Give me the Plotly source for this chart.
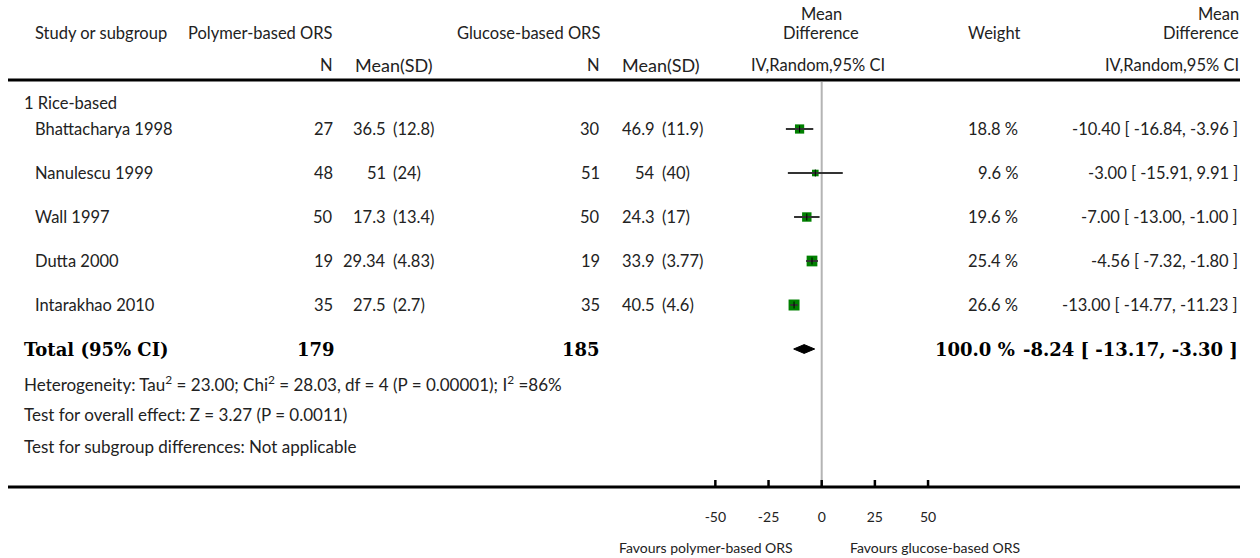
import plotly.graph_objects as go

# ---- study data ----
studies = ["Bhattacharya 1998", "Nanulescu 1999", "Wall 1997", "Dutta 2000", "Intarakhao 2010"]
n_poly = [27, 48, 50, 19, 35]
mean_poly = ["36.5", "51", "17.3", "29.34", "27.5"]
sd_poly = ["12.8", "24", "13.4", "4.83", "2.7"]
n_gluc = [30, 51, 50, 19, 35]
mean_gluc = ["46.9", "54", "24.3", "33.9", "40.5"]
sd_gluc = ["11.9", "40", "17", "3.77", "4.6"]
md = [-10.40, -3.00, -7.00, -4.56, -13.00]
ci_lo = [-16.84, -15.91, -13.00, -7.32, -14.77]
ci_hi = [-3.96, 9.91, -1.00, -1.80, -11.23]
weights = [18.8, 9.6, 19.6, 25.4, 26.6]

total_n_poly = 179
total_n_gluc = 185
total_md = -8.24
total_lo = -13.17
total_hi = -3.30
total_weight = 100.0

ticks = [-50, -25, 0, 25, 50]

W, H = 1260, 558
ROW0, ROWSTEP = 129, 44      # pixel y of first study row, row spacing
AXIS_Y = 487                 # pixel y of the bottom rule / axis
X0PX, XSCALE = 821.7, 2.127  # pixel x of zero, pixels per unit

SANS = "Lato, 'Open Sans', sans-serif"
SERIF = "'DejaVu Serif', 'Liberation Serif', serif"
TXT = "#222222"
FS = 16.5


def ry(py):
    """pixel y -> row coordinate on the y axis"""
    return (py - ROW0) / ROWSTEP


def px(x):
    """pixel x -> paper fraction"""
    return x / W


def pyp(py):
    """pixel y -> paper fraction (plot area spans 0..AXIS_Y)"""
    return (AXIS_Y - py) / AXIS_Y


fig = go.Figure()

rows = list(range(len(studies)))

# weighted squares
fig.add_trace(go.Scatter(
    x=md, y=rows, mode="markers",
    marker=dict(symbol="square", color="#008000", opacity=1,
                size=[2.13 * w ** 0.5 for w in weights], line=dict(width=0)),
    hoverinfo="skip", showlegend=False))

# confidence interval lines
cx, cy = [], []
for lo, hi, r in zip(ci_lo, ci_hi, rows):
    cx += [lo, hi, None]
    cy += [r, r, None]
fig.add_trace(go.Scatter(x=cx, y=cy, mode="lines",
                         line=dict(color="#333333", width=2),
                         hoverinfo="skip", showlegend=False))

# point estimate tick
fig.add_trace(go.Scatter(
    x=md, y=rows, mode="markers",
    marker=dict(symbol="line-ns", size=5, line=dict(color="black", width=1)),
    hoverinfo="skip", showlegend=False))

# pooled diamond
tr = len(studies)
dh = 0.1
fig.add_trace(go.Scatter(
    x=[total_lo, total_md, total_hi, total_md, total_lo],
    y=[tr, tr - dh, tr, tr + dh, tr],
    mode="lines", fill="toself", fillcolor="black",
    line=dict(color="black", width=1),
    hoverinfo="skip", showlegend=False))

# axis ticks pointing up from the bottom rule
tx, ty = [], []
for v in ticks:
    tx += [v, v, None]
    ty += [ry(AXIS_Y - 1), ry(AXIS_Y - 7), None]
fig.add_trace(go.Scatter(x=tx, y=ty, mode="lines",
                         line=dict(color="black", width=2.5),
                         hoverinfo="skip", showlegend=False))

shapes = [
    # header rule
    dict(type="line", xref="paper", yref="paper", x0=px(8), x1=px(1240),
         y0=pyp(80), y1=pyp(80), line=dict(color="black", width=3)),
    # bottom rule
    dict(type="line", xref="paper", yref="paper", x0=px(8), x1=px(1240),
         y0=pyp(AXIS_Y), y1=pyp(AXIS_Y), line=dict(color="black", width=3)),
    # line of no effect
    dict(type="line", xref="x", yref="paper", x0=0, x1=0,
         y0=pyp(82), y1=pyp(AXIS_Y), line=dict(color="#b4b4b4", width=2),
         layer="below"),
]

ann = []


def t(x, y, text, anchor="left", size=FS, font=SANS, color=TXT):
    ann.append(dict(x=px(x), y=pyp(y), xref="paper", yref="paper",
                    text=text, showarrow=False, xanchor=anchor, yanchor="middle",
                    font=dict(family=font, size=size, color=color)))


# column headers
t(33, 33, "Study or subgroup")
t(335, 33, "Polymer-based ORS", "right")
t(335, 65, "N", "right")
t(394, 65, "Mean(SD)", "center", size=18)
t(602, 33, "Glucose-based ORS", "right")
t(602, 65, "N", "right")
t(661, 65, "Mean(SD)", "center", size=18)
t(821, 14, "Mean", "center")
t(821, 33, "Difference", "center")
t(818, 65, "IV,Random,95% CI", "center")
t(994, 33, "Weight", "center")
t(1241, 14, "Mean", "right")
t(1241, 33, "Difference", "right")
t(1241, 65, "IV,Random,95% CI", "right")

# subgroup header
t(22, 103, "1 Rice-based")

# study rows
for i, r in enumerate(rows):
    y = ROW0 + ROWSTEP * r
    t(33, y, studies[i])
    t(335, y, str(n_poly[i]), "right")
    t(388, y, mean_poly[i], "right")
    t(391, y, f"({sd_poly[i]})", "left")
    t(602, y, str(n_gluc[i]), "right")
    t(657, y, mean_gluc[i], "right")
    t(660, y, f"({sd_gluc[i]})", "left")
    t(1020, y, f"{weights[i]:.1f} %", "right")
    t(1240, y, f"{md[i]:.2f} [ {ci_lo[i]:.2f}, {ci_hi[i]:.2f} ]", "right")

# total row
yt = ROW0 + ROWSTEP * tr
BS = 18
t(22, yt, "<b>Total (95% CI)</b>", size=BS, font=SERIF, color="black")
t(337, yt, f"<b>{total_n_poly}</b>", "right", size=BS, font=SERIF, color="black")
t(602, yt, f"<b>{total_n_gluc}</b>", "right", size=BS, font=SERIF, color="black")
t(1017, yt, f"<b>{total_weight:.1f} %</b>", "right", size=BS, font=SERIF, color="black")
t(1240, yt, f"<b>{total_md:.2f} [ {total_lo:.2f}, {total_hi:.2f} ]</b>",
  "right", size=BS, font=SERIF, color="black")

# footnotes
t(22, 383, "Heterogeneity: Tau<sup>2</sup> = 23.00; Chi<sup>2</sup> = 28.03, df = 4 (P = 0.00001); I<sup>2</sup> =86%", size=17)
t(22, 414, "Test for overall effect: Z = 3.27 (P = 0.0011)", size=17)
t(22, 446, "Test for subgroup differences: Not applicable", size=17)

# favours labels
t(795, 547, "Favours polymer-based ORS", "right", size=14)
t(848, 547, "Favours glucose-based ORS", "left", size=14)

fig.update_layout(
    width=W, height=H,
    margin=dict(l=0, r=0, t=0, b=H - AXIS_Y),
    paper_bgcolor="white", plot_bgcolor="white",
    shapes=shapes, annotations=ann,
    xaxis=dict(range=[-X0PX / XSCALE, (W - X0PX) / XSCALE], showgrid=False,
               zeroline=False, showline=False, tickvals=ticks,
               ticktext=[str(v) for v in ticks], ticks="",
               ticklabelstandoff=20,
               tickfont=dict(family=SANS, size=14, color=TXT), fixedrange=True),
    yaxis=dict(range=[ry(AXIS_Y), ry(0)], visible=False, fixedrange=True),
)

fig.write_html("out.html")
